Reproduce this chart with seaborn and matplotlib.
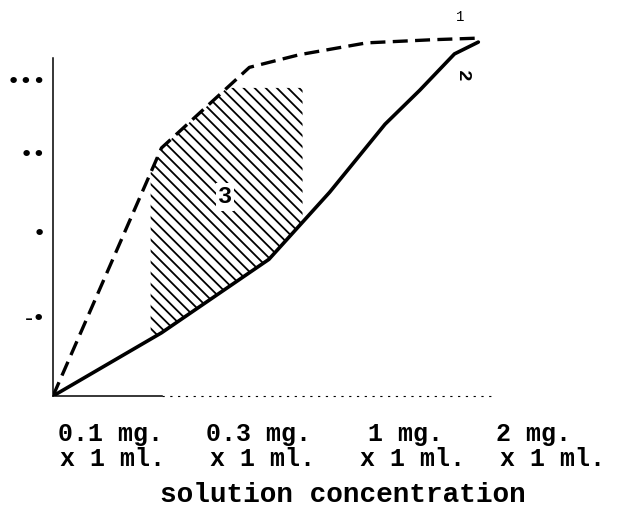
import numpy as np
import matplotlib
matplotlib.use("Agg")
import matplotlib.pyplot as plt
import seaborn as sns

# x axis: equally spaced concentration steps (0 = origin)
concentrations = ["0.1 mg.", "0.3 mg.", "1 mg.", "2 mg."]
volume_label = "x 1 ml."
tick_pos = [1, 2, 3, 4]

# curve 1 (dashed)
curve1_x = [0, 1.0, 1.81, 2.27, 2.89, 3.5, 3.92]
curve1_y = [0, 3.14, 4.16, 4.32, 4.47, 4.51, 4.53]

# curve 2 (solid)
curve2_x = [0, 1.0, 1.99, 2.55, 3.06, 3.38, 3.70, 3.92]
curve2_y = [0, 0.80, 1.73, 2.58, 3.44, 3.87, 4.33, 4.48]

# y axis marks (typed dots)
y_ticks = [1, 2.08, 3.08, 4.0]
y_labels = ["-•", "•", "••", "•••"]

# hatched zone 3 between the curves
hatch_from, hatch_to, hatch_cap = 0.9, 2.3, 3.9

sns.set_theme(style="white", rc={"text.color": "black"})
plt.rcParams["font.family"] = ["Liberation Mono", "DejaVu Sans"]
plt.rcParams["hatch.linewidth"] = 1.3
plt.rcParams["hatch.color"] = "black"

W, H = 637, 514
fig = plt.figure(figsize=(W / 100, H / 100), dpi=100)
ax = fig.add_axes([53 / W, 118 / H, 584 / W, 376 / H])
ax.set_xlim(0, 584 / 108.5)
ax.set_ylim(0, 376 / 79)

sns.lineplot(x=curve1_x, y=curve1_y, ax=ax, color="black", lw=2.4,
             linestyle=(0, (4.5, 2.2)))
sns.lineplot(x=curve2_x, y=curve2_y, ax=ax, color="black", lw=2.6)

hx = np.linspace(hatch_from, hatch_to, 60)
upper = np.minimum(np.interp(hx, curve1_x, curve1_y), hatch_cap)
lower = np.interp(hx, curve2_x, curve2_y)
ax.fill_between(hx, lower, upper, facecolor="none", edgecolor="black",
                hatch="\\\\\\", linewidth=0)

# axes drawn like the typed original
for s in ["top", "right"]:
    ax.spines[s].set_visible(False)
ax.spines["left"].set_bounds(0, 4.28)
ax.spines["left"].set_linewidth(1.1)
ax.spines["left"].set_color("black")
ax.spines["bottom"].set_bounds(0, tick_pos[0])
ax.spines["bottom"].set_linewidth(1.1)
ax.spines["bottom"].set_color("black")
ax.hlines(0, tick_pos[0], tick_pos[-1] + 0.05, colors="black", lw=0.8,
          linestyles=(0, (2, 5)), clip_on=False)

ax.set_xticks(tick_pos)
ax.set_xticklabels([])
ax.tick_params(axis="x", direction="in", length=4, width=1, color="black")
ax.set_yticks(y_ticks)
ax.set_yticklabels(y_labels, family="DejaVu Sans", fontsize=16, color="black")
ax.tick_params(axis="y", direction="in", length=3, width=1, color="black", pad=5)
ax.grid(False)

ax.text(1.585, 2.52, "3", fontsize=17, fontweight="bold", ha="center", va="center",
        bbox=dict(boxstyle="square,pad=0.1", facecolor="white", edgecolor="none"))
ax.text(3.77, 4.05, "2", fontsize=14, fontweight="bold", ha="center", va="center", rotation=-90)
ax.text(3.75, 4.80, "1", fontsize=10, ha="center", va="center")

# typed x labels under the axis
mg_centers = [111, 258, 406, 533]
ml_centers = [113, 262, 412, 552]
for c, lab in zip(mg_centers, concentrations):
    fig.text(c / W, 1 - 441 / H, lab, ha="center", va="baseline",
             fontsize=18, fontweight="bold", color="black")
for c in ml_centers:
    fig.text(c / W, 1 - 466 / H, volume_label, ha="center", va="baseline",
             fontsize=18, fontweight="bold", color="black")
fig.text(343 / W, 1 - 502 / H, "solution concentration", ha="center",
         va="baseline", fontsize=20, fontweight="bold", color="black")

fig.savefig("out.png", dpi=100, facecolor="white")
